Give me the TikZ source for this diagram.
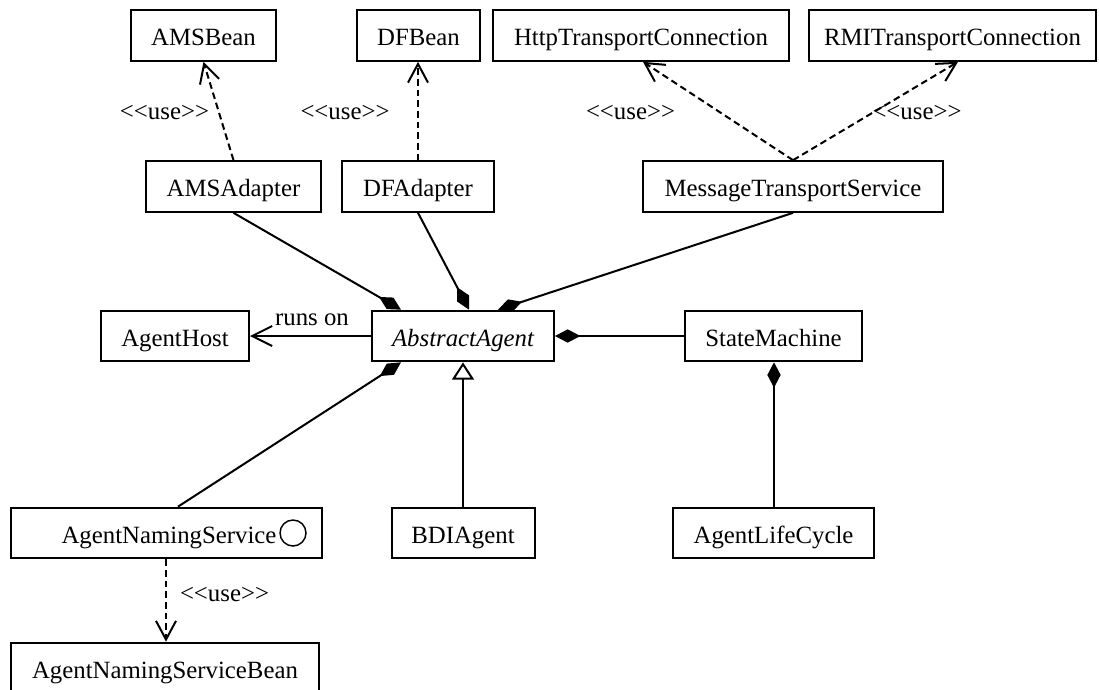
\documentclass[tikz,border=0pt]{standalone}
\usepackage{fontspec}
\setmainfont{Liberation Serif}
\usetikzlibrary{arrows.meta,calc}
\begin{document}
\begin{tikzpicture}[x=0.75pt,y=-0.75pt,
  every node/.style={font=\fontsize{18.6}{22}\selectfont},
  cls/.style={draw, line width=1.5pt, rectangle, inner sep=0pt,
              text height=18.3pt, text depth=3pt, minimum height=38pt},
  lbl/.style={inner sep=0pt},
  conn/.style={line width=1.5pt},
  usedep/.style={conn, dash pattern=on 5pt off 3pt,
                 -{Straight Barb[length=14pt,width=15pt]}},
  compo/.style={conn, -{Diamond[length=19pt,width=10pt]}},
  inherit/.style={conn, -{Triangle[open,length=13pt,width=16.5pt]}},
  assoc/.style={conn, -{Straight Barb[length=15pt,width=15pt]}},
]
\useasboundingbox (0,0) rectangle (1099,689);
\clip (0,0) rectangle (1099,689);

% top row: beans and transport connections
\node[cls, minimum width=108.75pt] (amsbean) at (203.5,35.5) {AMSBean};
\node[cls, minimum width=92.25pt]  (dfbean)  at (418.5,35.5) {DFBean};
\node[cls, minimum width=222pt]    (http)    at (641,35.5)   {HttpTransportConnection};
\node[cls, minimum width=215.25pt] (rmi)     at (952.5,35.5) {RMITransportConnection};

% adapters and transport service
\node[cls, minimum width=131.25pt] (amsad) at (233.5,186.5) {AMSAdapter};
\node[cls, minimum width=114pt]    (dfad)  at (418,186.5)   {DFAdapter};
\node[cls, minimum width=225pt]    (mts)   at (793,186.5)   {MessageTransportService};

% core row
\node[cls, minimum width=111pt]    (host)  at (175,336)   {AgentHost};
\node[cls, minimum width=136.5pt]  (agent) at (463,336)   {\itshape AbstractAgent};
\node[cls, minimum width=132.75pt] (sm)    at (773.5,336) {StateMachine};

% lower row
\node[cls, minimum width=233.25pt] (ans) at (166.5,533) {};
\node[inner sep=0pt, text height=18.3pt, text depth=3pt] (anstext) at (169,533) {AgentNamingService};
\node[draw, circle, line width=1.1pt, minimum size=19.5pt, inner sep=0pt] (iface) at (293,533) {};
\node[cls, minimum width=107.25pt] (bdi) at (463,533) {BDIAgent};
\node[cls, minimum width=150.75pt] (alc) at (773.5,533) {AgentLifeCycle};

% bottom, partly outside the page
\node[cls, minimum width=231pt] (ansbean) at (165,668) {AgentNamingServiceBean};

% <<use>> dependencies
\draw[usedep] (amsad.north) -- (amsbean.south);
\draw[usedep] (dfad.north) -- (dfad.north |- dfbean.south);
\draw[usedep] (mts.north) -- ($(http.south)+(2,0)$);
\draw[usedep] (mts.north) -- ($(rmi.south)+(5.5,0)$);
\draw[usedep] ($(ans.south)+(-0.5,0)$) -- ($(ansbean.north)+(1,0)$);

\node[lbl] (u1) at (164.5,113) {<\kern0pt<use>\kern0pt>};
\node[lbl] (u2) at (345,113)   {<\kern0pt<use>\kern0pt>};
\node[lbl] (u3) at (630.5,113) {<\kern0pt<use>\kern0pt>};
\node[lbl] (u4) at (917,113)   {<\kern0pt<use>\kern0pt>};
\node[lbl] (u5) at (224.5,595) {<\kern0pt<use>\kern0pt>};

% compositions into AbstractAgent
\draw[compo] (amsad.south) -- ($(agent.north west)+(30,0)$);
\draw[compo] (dfad.south) -- ($(agent.north)+(6,0)$);
\draw[compo] (mts.south) -- ($(agent.north east)+(-57,0)$);
\draw[compo] ($(ans.north)+(11.5,0)$) -- ($(agent.south west)+(30,0)$);
\draw[compo] (sm.west) -- (agent.east);
\draw[compo] ($(alc.north)+(0.5,0)$) -- ($(sm.south)+(0.5,0)$);

% generalisation
\draw[inherit] (bdi.north) -- (agent.south);

% association
\draw[assoc] (agent.west) -- (host.east);
\node[lbl] (runson) at (312,320) {runs on};
\end{tikzpicture}
\end{document}
